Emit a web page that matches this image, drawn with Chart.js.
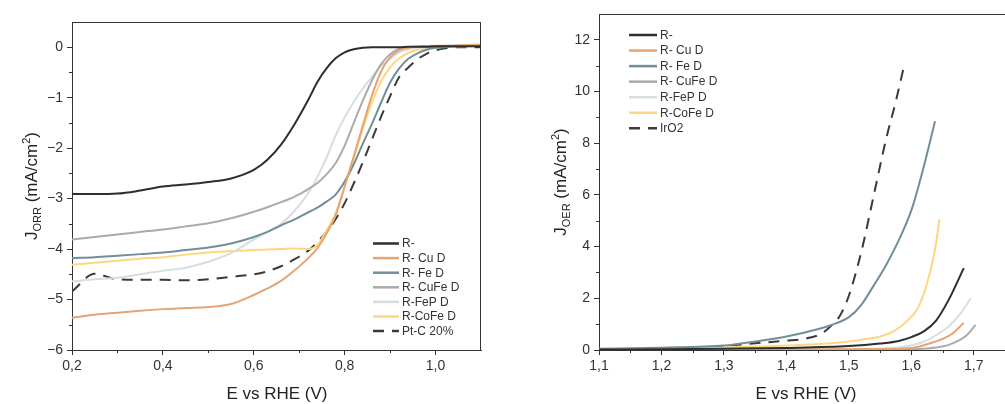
<!DOCTYPE html>
<html>
<head>
<meta charset="utf-8">
<script src="https://cdn.jsdelivr.net/npm/chart.js@4.4.0/dist/chart.umd.min.js"></script>
<style>
  html, body { margin: 0; padding: 0; background: #fff; }
  #wrap { position: relative; width: 1005px; height: 404px; overflow: hidden; }
  canvas { position: absolute; top: 0; }
</style>
</head>
<body>
<div id="wrap">
  <canvas id="orrChart" width="500" height="404" style="left:0"></canvas>
  <canvas id="oerChart" width="505" height="404" style="left:500px"></canvas>
</div>
<script>
'use strict';
// ORR panel: one potential grid (V vs RHE) shared by every curve
let orrPotential = [0.2, 0.25, 0.3, 0.35, 0.4, 0.45, 0.5, 0.55, 0.6, 0.63, 0.66, 0.69, 0.72, 0.74, 0.76, 0.78, 0.8, 0.82, 0.84, 0.86, 0.88, 0.9, 0.92, 0.94, 0.96, 0.98, 1.0, 1.03, 1.06, 1.1];
let orrR     = [-2.91, -2.91, -2.9, -2.84, -2.76, -2.72, -2.67, -2.6, -2.43, -2.23, -1.93, -1.52, -1.04, -0.69, -0.42, -0.22, -0.1, -0.04, -0.01, 0, 0, 0, 0, 0.01, 0.01, 0.01, 0.02, 0.02, 0.02, 0.02];
let orrCu    = [-5.36, -5.3, -5.26, -5.22, -5.19, -5.17, -5.15, -5.09, -4.91, -4.78, -4.63, -4.42, -4.18, -3.98, -3.69, -3.33, -2.76, -2.16, -1.55, -0.96, -0.48, -0.2, -0.06, -0.01, 0.01, 0.02, 0.03, 0.03, 0.04, 0.04];
let orrFe    = [-4.18, -4.16, -4.13, -4.1, -4.07, -4.02, -3.97, -3.89, -3.76, -3.66, -3.53, -3.41, -3.27, -3.18, -3.06, -2.92, -2.66, -2.32, -1.91, -1.52, -1.1, -0.7, -0.42, -0.23, -0.12, -0.05, -0.01, 0.01, 0.02, 0.03];
let orrCuFe  = [-3.81, -3.76, -3.71, -3.66, -3.61, -3.55, -3.49, -3.39, -3.26, -3.17, -3.07, -2.96, -2.81, -2.69, -2.52, -2.3, -1.95, -1.5, -1.06, -0.66, -0.34, -0.14, -0.03, 0, 0.01, 0.02, 0.02, 0.03, 0.03, 0.03];
let orrFeP   = [-4.64, -4.6, -4.57, -4.5, -4.43, -4.37, -4.25, -4.08, -3.81, -3.66, -3.5, -3.24, -2.89, -2.57, -2.19, -1.75, -1.39, -1.08, -0.82, -0.59, -0.37, -0.23, -0.1, -0.04, -0.01, 0, 0.01, 0.02, 0.02, 0.03];
let orrCoFe  = [-4.31, -4.27, -4.23, -4.19, -4.16, -4.11, -4.07, -4.04, -4.02, -4.01, -4.0, -3.99, -4.0, -3.92, -3.63, -3.3, -2.76, -2.2, -1.62, -1.1, -0.68, -0.4, -0.22, -0.11, -0.05, -0.02, 0, 0.02, 0.04, 0.06];
let orrPtC   = [-4.84, -4.49, -4.6, -4.61, -4.61, -4.62, -4.6, -4.55, -4.5, -4.44, -4.34, -4.2, -4.03, -3.86, -3.66, -3.41, -3.09, -2.7, -2.28, -1.83, -1.38, -0.97, -0.59, -0.4, -0.24, -0.13, -0.06, -0.01, 0, 0];
let orrLabels = ['R-', 'R- Cu D', 'R- Fe D', 'R- CuFe D', 'R-FeP D', 'R-CoFe D', 'Pt-C 20%'];
let orrXTicks = [0.2, 0.4, 0.6, 0.8, 1.0];
let orrYTicks = [-6, -5, -4, -3, -2, -1, 0];

// OER panel: each curve has its own potential points
let oerR_E    = [1.1, 1.2, 1.3, 1.4, 1.5, 1.55, 1.58, 1.6, 1.62, 1.64, 1.66, 1.684];
let oerR_J    = [0.02, 0.03, 0.05, 0.08, 0.15, 0.25, 0.35, 0.5, 0.72, 1.15, 1.95, 3.17];
let oerCu_E   = [1.1, 1.3, 1.5, 1.55, 1.6, 1.625, 1.645, 1.665, 1.684];
let oerCu_J   = [0.01, 0.02, 0.03, 0.04, 0.08, 0.22, 0.38, 0.62, 1.05];
let oerFe_E   = [1.1, 1.2, 1.3, 1.35, 1.4, 1.45, 1.47, 1.5, 1.52, 1.54, 1.56, 1.58, 1.6, 1.62, 1.638];
let oerFe_J   = [0.05, 0.09, 0.17, 0.33, 0.52, 0.8, 0.95, 1.27, 1.75, 2.5, 3.3, 4.25, 5.4, 7.1, 8.85];
let oerCuFe_E = [1.1, 1.4, 1.6, 1.64, 1.66, 1.68, 1.69, 1.703];
let oerCuFe_J = [0.0, 0.01, 0.03, 0.1, 0.2, 0.42, 0.6, 0.97];
let oerFeP_E  = [1.1, 1.4, 1.5, 1.58, 1.6, 1.62, 1.64, 1.66, 1.68, 1.695];
let oerFeP_J  = [0.01, 0.02, 0.04, 0.1, 0.18, 0.32, 0.58, 0.92, 1.45, 2.0];
let oerCoFe_E = [1.1, 1.2, 1.3, 1.4, 1.47, 1.52, 1.55, 1.57, 1.59, 1.61, 1.625, 1.638, 1.645];
let oerCoFe_J = [0.04, 0.06, 0.1, 0.17, 0.26, 0.4, 0.52, 0.7, 1.05, 1.6, 2.55, 3.9, 5.05];
let oerIr_E   = [1.25, 1.3, 1.35, 1.4, 1.43, 1.455, 1.47, 1.485, 1.5, 1.52, 1.54, 1.56, 1.575, 1.588];
let oerIr_J   = [0.08, 0.15, 0.26, 0.36, 0.44, 0.62, 0.9, 1.3, 2.1, 3.8, 6.0, 8.2, 9.6, 10.95];
let oerLabels = ['R-', 'R- Cu D', 'R- Fe D', 'R- CuFe D', 'R-FeP D', 'R-CoFe D', 'IrO2'];
let oerXTicks = [1.1, 1.2, 1.3, 1.4, 1.5, 1.6, 1.7];
let oerYTicks = [0, 2, 4, 6, 8, 10, 12];

// styles
const FONT = '"Liberation Sans", Arial, sans-serif';
const INK = '#333';
let seriesColors = ['#2e2e2e', '#e6a472', '#718f9a', '#ababab', '#d5dee1', '#fdd780', '#3a3a3a'];

Chart.defaults.font.family = FONT;

function pairs(xs, ys) {
  return xs.map((x, i) => ({ x: x, y: ys[i] }));
}

function makeDatasets(labels, seriesList) {
  return seriesList.map((pts, i) => ({
    label: labels[i],
    data: pts,
    borderColor: seriesColors[i],
    borderWidth: 2,
    borderDash: i === 6 ? [11, 8] : [],
    pointRadius: 0,
    cubicInterpolationMode: 'monotone',
    fill: false
  }));
}

let fmtDec = v => v.toFixed(1).replace('.', ',');
let fmtInt = v => String(v).replace('-', '\u2212');

function axisOptions(min, max, ticks, fmt, isX, size) {
  return {
    type: 'linear',
    min: min,
    max: max,
    afterBuildTicks: s => { s.ticks = ticks.map(v => ({ value: v })); },
    afterFit: s => { if (isX) s.height = size; else s.width = size; },
    ticks: { callback: fmt, color: INK, font: { size: 14, family: FONT }, padding: isX ? 3 : 4, maxRotation: 0, autoSkip: false },
    grid: { drawOnChartArea: false, drawTicks: true, tickLength: 5, tickColor: INK, tickWidth: 1 },
    border: { display: true, color: INK, width: 1 }
  };
}

// minor ticks sit halfway between the labelled ones, edges excluded
function minorValues(major, min, max) {
  let out = [];
  let step = major[1] - major[0];
  let cand = major.map(v => v + step / 2).concat([major[0] - step / 2]);
  cand.forEach(v => { if (v > min + 1e-6 && v < max - 1e-6) out.push(v); });
  return out;
}

function drawRich(ctx, parts, cx, cy, rotate) {
  let total = 0;
  parts.forEach(p => {
    ctx.font = p.s + 'px ' + FONT;
    p.w = ctx.measureText(p.t).width;
    total += p.w;
  });
  ctx.save();
  ctx.translate(cx, cy);
  if (rotate) ctx.rotate(-Math.PI / 2);
  ctx.textBaseline = 'alphabetic';
  ctx.textAlign = 'left';
  ctx.fillStyle = '#222';
  let x = -total / 2;
  parts.forEach(p => {
    ctx.font = p.s + 'px ' + FONT;
    ctx.fillText(p.t, x, p.dy || 0);
    x += p.w;
  });
  ctx.restore();
}

let panelDecor = {
  id: 'panelDecor',
  afterDraw(chart, args, opts) {
    let ctx = chart.ctx;
    let a = chart.chartArea;
    let xs = chart.scales.x;
    let ys = chart.scales.y;
    ctx.save();
    ctx.strokeStyle = INK;
    ctx.lineWidth = 1;
    ctx.beginPath();
    ctx.moveTo(a.left, a.top + 0.5);
    ctx.lineTo(a.right, a.top + 0.5);
    if (opts.rightFrame) {
      ctx.moveTo(a.right - 0.5, a.top);
      ctx.lineTo(a.right - 0.5, a.bottom);
    }
    minorValues(opts.xTicks, xs.min, xs.max).forEach(v => {
      let p = Math.round(xs.getPixelForValue(v)) + 0.5;
      ctx.moveTo(p, a.bottom);
      ctx.lineTo(p, a.bottom + 3);
    });
    minorValues(opts.yTicks, ys.min, ys.max).forEach(v => {
      let p = Math.round(ys.getPixelForValue(v)) + 0.5;
      ctx.moveTo(a.left, p);
      ctx.lineTo(a.left - 3, p);
    });
    ctx.stroke();

    // legend inside the plot
    let lg = opts.legend;
    ctx.font = '12px ' + FONT;
    ctx.textBaseline = 'middle';
    ctx.textAlign = 'left';
    chart.data.datasets.forEach((ds, i) => {
      let yy = lg.y + i * lg.step;
      ctx.beginPath();
      ctx.setLineDash(ds.borderDash);
      ctx.strokeStyle = ds.borderColor;
      ctx.lineWidth = 2.5;
      ctx.moveTo(lg.x, yy);
      ctx.lineTo(lg.x + lg.len, yy);
      ctx.stroke();
      ctx.setLineDash([]);
      ctx.fillStyle = INK;
      ctx.fillText(ds.label, lg.x + lg.len + 3, yy + 0.5);
    });

    // axis titles
    drawRich(ctx, opts.yTitle, opts.yTitleX, (a.top + a.bottom) / 2, true);
    drawRich(ctx, [{ t: 'E vs RHE (V)', s: 17 }], opts.xTitleX, 399, false);
    ctx.restore();
  }
};

function yTitleParts(sub) {
  return [
    { t: 'J', s: 17 },
    { t: sub, s: 11, dy: 4 },
    { t: ' (mA/cm', s: 17 },
    { t: '2', s: 11, dy: -7 },
    { t: ')', s: 17 }
  ];
}

let orrSeries = [orrR, orrCu, orrFe, orrCuFe, orrFeP, orrCoFe, orrPtC].map(ys => pairs(orrPotential, ys));
let oerSeries = [
  pairs(oerR_E, oerR_J),
  pairs(oerCu_E, oerCu_J),
  pairs(oerFe_E, oerFe_J),
  pairs(oerCuFe_E, oerCuFe_J),
  pairs(oerFeP_E, oerFeP_J),
  pairs(oerCoFe_E, oerCoFe_J),
  pairs(oerIr_E, oerIr_J)
];

new Chart(document.getElementById('orrChart'), {
  type: 'line',
  data: { datasets: makeDatasets(orrLabels, orrSeries) },
  options: {
    responsive: false,
    animation: false,
    devicePixelRatio: 1,
    layout: { padding: { left: 0, top: 22, right: 19, bottom: 0 } },
    scales: {
      x: axisOptions(0.2, 1.1, orrXTicks, fmtDec, true, 54),
      y: axisOptions(-6, 0.5, orrYTicks, fmtInt, false, 72)
    },
    plugins: {
      legend: { display: false },
      tooltip: { enabled: false },
      panelDecor: {
        rightFrame: true,
        xTicks: orrXTicks,
        yTicks: orrYTicks,
        legend: { x: 373, y: 243.5, step: 14.6, len: 26 },
        yTitle: yTitleParts('ORR'),
        yTitleX: 37,
        xTitleX: 277
      }
    }
  },
  plugins: [panelDecor]
});

new Chart(document.getElementById('oerChart'), {
  type: 'line',
  data: { datasets: makeDatasets(oerLabels, oerSeries) },
  options: {
    responsive: false,
    animation: false,
    devicePixelRatio: 1,
    layout: { padding: { left: 0, top: 14, right: 0, bottom: 0 } },
    scales: {
      x: axisOptions(1.1, 1.75, oerXTicks, fmtDec, true, 54),
      y: axisOptions(0, 13, oerYTicks, fmtInt, false, 99)
    },
    plugins: {
      legend: { display: false },
      tooltip: { enabled: false },
      panelDecor: {
        rightFrame: false,
        xTicks: oerXTicks,
        yTicks: oerYTicks,
        legend: { x: 129, y: 35, step: 15.55, len: 28 },
        yTitle: yTitleParts('OER'),
        yTitleX: 66,
        xTitleX: 306
      }
    }
  },
  plugins: [panelDecor]
});
</script>
</body>
</html>
